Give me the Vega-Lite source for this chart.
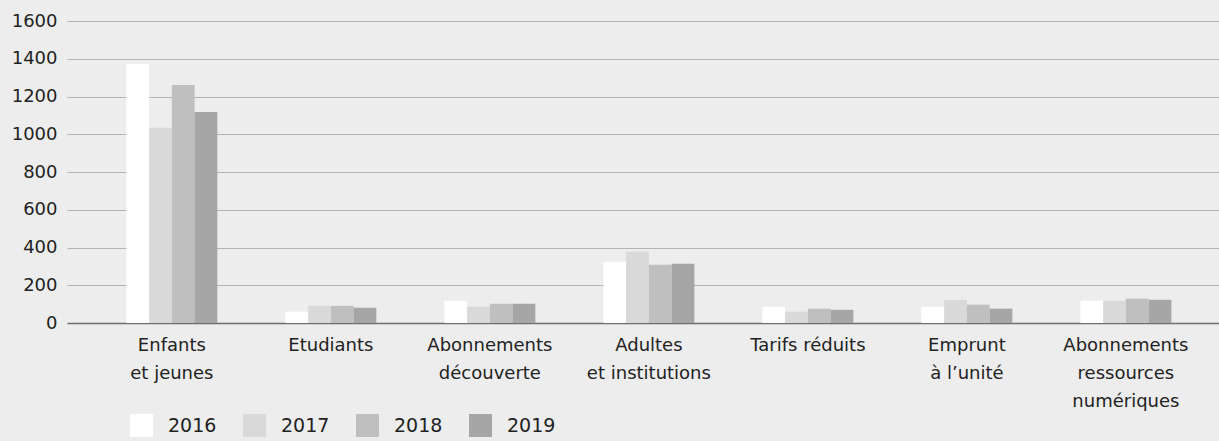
{
  "$schema": "https://vega.github.io/schema/vega-lite/v6.json",
  "width": 1152,
  "height": 302,
  "autosize": {"type": "none"},
  "padding": {"left": 67, "top": 21, "right": 0, "bottom": 118},
  "background": "#ededed",
  "config": {"view": {"stroke": null}, "font": "DejaVu Sans"},
  "data": {
    "values": [
      {"category": "Enfants\net jeunes", "year": "2016", "value": 1372},
      {"category": "Enfants\net jeunes", "year": "2017", "value": 1034},
      {"category": "Enfants\net jeunes", "year": "2018", "value": 1261},
      {"category": "Enfants\net jeunes", "year": "2019", "value": 1118},
      {"category": "Etudiants", "year": "2016", "value": 60},
      {"category": "Etudiants", "year": "2017", "value": 92},
      {"category": "Etudiants", "year": "2018", "value": 91},
      {"category": "Etudiants", "year": "2019", "value": 81},
      {"category": "Abonnements\ndécouverte", "year": "2016", "value": 118},
      {"category": "Abonnements\ndécouverte", "year": "2017", "value": 86},
      {"category": "Abonnements\ndécouverte", "year": "2018", "value": 102},
      {"category": "Abonnements\ndécouverte", "year": "2019", "value": 102},
      {"category": "Adultes\net institutions", "year": "2016", "value": 324},
      {"category": "Adultes\net institutions", "year": "2017", "value": 377},
      {"category": "Adultes\net institutions", "year": "2018", "value": 309},
      {"category": "Adultes\net institutions", "year": "2019", "value": 314},
      {"category": "Tarifs réduits", "year": "2016", "value": 86},
      {"category": "Tarifs réduits", "year": "2017", "value": 60},
      {"category": "Tarifs réduits", "year": "2018", "value": 76},
      {"category": "Tarifs réduits", "year": "2019", "value": 70},
      {"category": "Emprunt\nà l’unité", "year": "2016", "value": 86},
      {"category": "Emprunt\nà l’unité", "year": "2017", "value": 123},
      {"category": "Emprunt\nà l’unité", "year": "2018", "value": 97},
      {"category": "Emprunt\nà l’unité", "year": "2019", "value": 76},
      {"category": "Abonnements\nressources\nnumériques", "year": "2016", "value": 118},
      {"category": "Abonnements\nressources\nnumériques", "year": "2017", "value": 118},
      {"category": "Abonnements\nressources\nnumériques", "year": "2018", "value": 129},
      {"category": "Abonnements\nressources\nnumériques", "year": "2019", "value": 123}
    ]
  },
  "mark": {"type": "bar"},
  "encoding": {
    "x": {
      "field": "category",
      "type": "nominal",
      "sort": null,
      "scale": {"paddingInner": 0.428, "paddingOuter": 0.3365, "align": 0.555},
      "axis": {
        "title": null,
        "labelAngle": 0,
        "labelExpr": "split(datum.label, '\\n')",
        "labelFontSize": 18,
        "labelColor": "#222222",
        "labelPadding": 13,
        "labelLineHeight": 28,
        "labelLimit": 0,
        "ticks": false,
        "domainColor": "#6e6e6e",
        "domainWidth": 1.5
      }
    },
    "xOffset": {"field": "year", "type": "nominal", "scale": {"paddingInner": 0, "paddingOuter": 0}},
    "y": {
      "field": "value",
      "type": "quantitative",
      "scale": {"domain": [0, 1600], "nice": false},
      "axis": {
        "title": null,
        "format": "d",
        "values": [0, 200, 400, 600, 800, 1000, 1200, 1400, 1600],
        "domain": false,
        "ticks": false,
        "gridColor": "#b3b3b3",
        "labelFontSize": 18,
        "labelPadding": 10,
        "labelColor": "#222222"
      }
    },
    "color": {
      "field": "year",
      "type": "nominal",
      "scale": {"domain": ["2016", "2017", "2018", "2019"], "range": ["#ffffff", "#d9d9d9", "#bfbfbf", "#a6a6a6"]},
      "legend": {
        "title": null,
        "orient": "none",
        "legendX": 63,
        "legendY": 393,
        "direction": "horizontal",
        "symbolType": "square",
        "symbolSize": 529,
        "symbolStrokeWidth": 0,
        "symbolOpacity": 1,
        "labelFontSize": 19,
        "labelColor": "#222222",
        "labelOffset": 15,
        "columnPadding": 26
      }
    }
  }
}
